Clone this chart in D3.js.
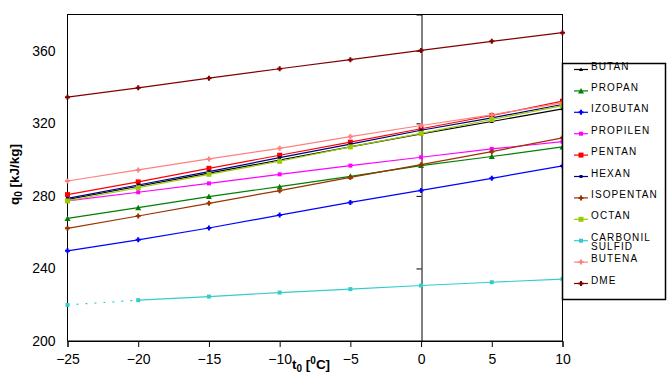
<!DOCTYPE html>
<html>
<head>
<meta charset="utf-8">
<script src="https://cdn.jsdelivr.net/npm/d3@7"></script>
<style>
  body { margin: 0; background: #fff; }
  svg { display: block; font-family: "Liberation Sans", Arial, sans-serif; }
</style>
</head>
<body>
<div id="chart"></div>
<script>
// Evaporation temperature t0 [°C]
const temps = [-25, -20, -15, -10, -5, 0, 5, 10];

// Refrigerating effect q0 [kJ/kg] per refrigerant
const butan     = [278.0, 285.3, 292.5, 299.8, 307.0, 314.2, 321.0, 328.0];
const propan    = [267.6, 273.5, 279.6, 285.1, 290.8, 296.7, 301.7, 307.0];
const izobutan  = [249.7, 255.8, 262.3, 269.4, 276.4, 283.0, 289.7, 296.5];
const propilen  = [277.2, 282.0, 286.9, 291.9, 296.7, 301.3, 305.9, 309.9];
const pentan    = [280.7, 287.7, 295.2, 302.4, 309.6, 317.0, 324.3, 332.2];
const hexan     = [278.6, 286.0, 293.4, 301.1, 308.5, 316.2, 323.0, 330.4];
const isopentan = [262.1, 268.9, 275.9, 282.9, 290.2, 297.2, 304.4, 312.0];
const octan     = [277.2, 284.5, 291.9, 299.1, 307.0, 314.5, 322.1, 329.8];
const carbonil  = [219.9, 222.5, 224.5, 226.7, 228.6, 230.6, 232.4, 234.1];
const butena    = [288.2, 294.3, 300.4, 306.2, 312.7, 318.8, 324.7, 331.3];
const dme       = [334.4, 339.6, 344.9, 350.1, 355.1, 360.2, 365.2, 370.0];

const seriesNames = ['BUTAN', 'PROPAN', 'IZOBUTAN', 'PROPILEN', 'PENTAN', 'HEXAN',
                     'ISOPENTAN', 'OCTAN', 'CARBONIL SULFID', 'BUTENA', 'DME'];
const seriesValues = [butan, propan, izobutan, propilen, pentan, hexan,
                      isopentan, octan, carbonil, butena, dme];

const yTicks = [200, 240, 280, 320, 360];

// Look of each series (Excel-like palette and markers)
const styles = [
    { color: '#000000', marker: 'tri',    size: 3 },
    { color: '#008000', marker: 'tri',    size: 5 },
    { color: '#0000ff', marker: 'plus',   size: 5 },
    { color: '#ff00ff', marker: 'square', size: 4 },
    { color: '#ff0000', marker: 'square', size: 5 },
    { color: '#000080', marker: 'square', size: 3 },
    { color: '#993300', marker: 'plus',   size: 5 },
    { color: '#99cc00', marker: 'square', size: 5 },
    { color: '#33cccc', marker: 'square', size: 4 },
    { color: '#ff8080', marker: 'plus',   size: 5 },
    { color: '#800000', marker: 'plus',   size: 5 }
];

const width = 672, height = 382;
const plot = { left: 67.5, right: 562.5, top: 14.5, bottom: 341 };

const svg = d3.select('#chart').append('svg')
    .attr('width', width)
    .attr('height', height);

const x = d3.scaleLinear().domain([-25, 10]).range([plot.left, plot.right]);
const y = d3.scaleLinear().domain([200, 380]).range([plot.bottom, plot.top]);

// Plot area border
svg.append('rect')
    .attr('x', plot.left).attr('y', plot.top)
    .attr('width', plot.right - plot.left)
    .attr('height', plot.bottom - plot.top)
    .attr('fill', 'none')
    .attr('stroke', '#000');

// X axis at the bottom
const xAxis = svg.append('g')
    .attr('transform', `translate(0,${plot.bottom})`)
    .call(d3.axisBottom(x).tickValues(temps).tickSize(6).tickPadding(7).tickFormat(d3.format('d')));
xAxis.selectAll('text').style('font-size', '14px').attr('fill', '#000');
xAxis.selectAll('line, path').attr('stroke', '#000');

// Y tick labels sit on the left edge
const yLabels = svg.append('g')
    .attr('transform', `translate(${plot.left},0)`)
    .call(d3.axisLeft(y).tickValues(yTicks).tickSize(0).tickPadding(12));
yLabels.select('.domain').remove();
yLabels.selectAll('text').style('font-size', '14px').attr('fill', '#000');

// Y axis line itself crosses at t0 = 0
const yAxis = svg.append('g')
    .attr('transform', `translate(${Math.round(x(0)) + 0.5},0)`)
    .call(d3.axisLeft(y).tickValues(yTicks).tickSize(5).tickFormat(''));
yAxis.selectAll('line, path').attr('stroke', '#000');

// Lines
const line = d3.line()
    .x((d, i) => x(temps[i]))
    .y(d => y(d));

function drawMarker(g, type, size, color) {
    const h = size / 2;
    if (type === 'square') {
        g.append('rect')
            .attr('x', -h).attr('y', -h)
            .attr('width', size).attr('height', size)
            .attr('fill', color);
    } else if (type === 'tri') {
        g.append('path')
            .attr('d', `M0,${-h - 0.5}L${h + 0.5},${h}L${-h - 0.5},${h}Z`)
            .attr('fill', color);
    } else {
        g.append('path')
            .attr('d', `M${-h},0H${h}M0,${-h}V${h}`)
            .attr('stroke', color)
            .attr('stroke-width', 2);
    }
}

seriesValues.forEach((vals, s) => {
    const st = styles[s];
    const g = svg.append('g');
    if (seriesNames[s] === 'CARBONIL SULFID') {
        // first segment shows up broken/dotted in the original
        g.append('path')
            .attr('d', line(vals.slice(0, 2)))
            .attr('fill', 'none')
            .attr('stroke', st.color)
            .attr('stroke-width', 1.2)
            .attr('stroke-dasharray', '2,7');
        g.append('path')
            .attr('d', d3.line().x((d, i) => x(temps[i + 1])).y(d => y(d))(vals.slice(1)))
            .attr('fill', 'none')
            .attr('stroke', st.color)
            .attr('stroke-width', 1.2);
    } else {
        g.append('path')
            .attr('d', line(vals))
            .attr('fill', 'none')
            .attr('stroke', st.color)
            .attr('stroke-width', 1.2);
    }
    vals.forEach((v, i) => {
        const m = g.append('g').attr('transform', `translate(${x(temps[i])},${y(v)})`);
        drawMarker(m, st.marker, st.size, st.color);
    });
});

// Axis titles
const yTitle = svg.append('text')
    .attr('transform', 'translate(19,205) rotate(-90)')
    .style('font-size', '13.5px')
    .style('font-weight', 'bold');
yTitle.append('tspan').text('q');
yTitle.append('tspan').attr('dy', 3).style('font-size', '10px').text('0');
yTitle.append('tspan').attr('dy', -3).text(' [kJ/kg]');

const xTitle = svg.append('text')
    .attr('x', 292).attr('y', 369)
    .style('font-size', '13.5px')
    .style('font-weight', 'bold');
xTitle.append('tspan').text('t');
xTitle.append('tspan').attr('dy', 3).style('font-size', '10px').text('0');
xTitle.append('tspan').attr('dy', -3).text(' [');
xTitle.append('tspan').attr('dy', -5).style('font-size', '10px').text('0');
xTitle.append('tspan').attr('dy', 5).text('C]');

// Legend
const legend = svg.append('g');
legend.append('rect')
    .attr('x', 562.5).attr('y', 63.5)
    .attr('width', 103).attr('height', 236)
    .attr('fill', '#fff')
    .attr('stroke', '#000')
    .attr('stroke-width', 1.5);

seriesNames.forEach((name, i) => {
    const st = styles[i];
    const ly = 69.5 + i * 21.4;
    const item = legend.append('g').attr('transform', `translate(0,${ly})`);
    item.append('line')
        .attr('x1', 574).attr('x2', 588)
        .attr('stroke', st.color)
        .attr('stroke-width', 1.2);
    drawMarker(item.append('g').attr('transform', 'translate(581,0)'), st.marker, st.size, st.color);
    const t = item.append('text')
        .attr('x', 591)
        .attr('dy', '0.36em')
        .style('font-size', '10px')
        .style('letter-spacing', '1.1px');
    name.split(' ').forEach((word, k) => {
        t.append('tspan').attr('x', 591).attr('dy', k === 0 ? 0 : 9.8).text(word);
    });
});
</script>
</body>
</html>
